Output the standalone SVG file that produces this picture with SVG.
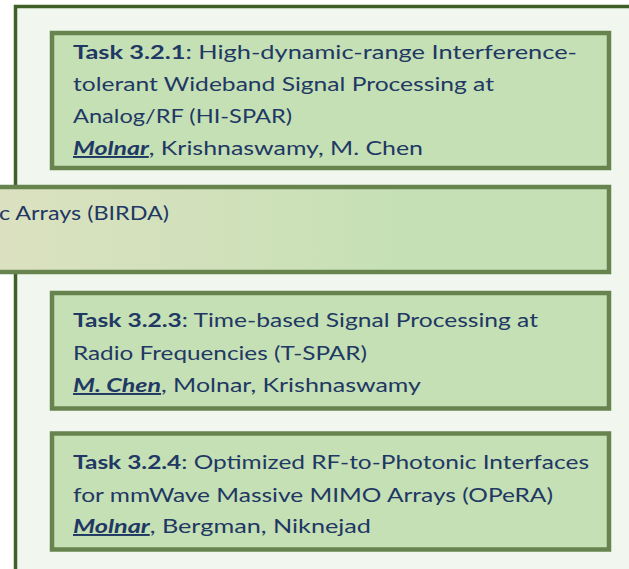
<svg xmlns="http://www.w3.org/2000/svg" width="629" height="569" viewBox="0 0 629 569">
<style>
.frame{fill:#f1f6ee;stroke:#3f6128;stroke-width:3.5}
.box{fill:#c5e0b4;stroke:#67844f;stroke-width:4.5}
.t{font-family:Lato,"Open Sans","Liberation Sans",sans-serif;font-size:19.5px;fill:#1f3864}
.b{font-weight:bold}
.lead{font-weight:bold;font-style:italic;text-decoration:underline}
</style>
<defs>
<linearGradient id="birdaGrad" gradientUnits="userSpaceOnUse" x1="-200" y1="0" x2="609" y2="0">
<stop offset="0" stop-color="#e6e2c6"/>
<stop offset="0.75" stop-color="#c6e0b5"/>
<stop offset="1" stop-color="#c5e0b4"/>
</linearGradient>
</defs>
<g id="container">
<rect class="frame" x="15.5" y="6.5" width="700" height="700"/>
</g>
<g id="connectors"/>
<g id="task321">
<rect class="box" x="52" y="33" width="557" height="135"/>
<text class="t" x="73" y="59" textLength="504" lengthAdjust="spacingAndGlyphs"><tspan class="b">Task 3.2.1</tspan>:  High-dynamic-range Interference-</text>
<text class="t" x="73" y="91" textLength="421" lengthAdjust="spacingAndGlyphs">tolerant Wideband Signal Processing at</text>
<text class="t" x="73" y="123" textLength="219" lengthAdjust="spacingAndGlyphs">Analog/RF (HI-SPAR)</text>
<text class="t" x="73" y="155" textLength="350" lengthAdjust="spacingAndGlyphs"><tspan class="lead">Molnar</tspan>, Krishnaswamy, M. Chen</text>
</g>
<g id="task322">
<rect x="-20" y="187" width="629" height="85" fill="url(#birdaGrad)" stroke="#67844f" stroke-width="4.5"/>
<text class="t" x="-1" y="220" textLength="170" lengthAdjust="spacingAndGlyphs">c Arrays (BIRDA)</text>
</g>
<g id="task323">
<rect class="box" x="52" y="293" width="557" height="115.5"/>
<text class="t" x="73" y="327" textLength="465" lengthAdjust="spacingAndGlyphs"><tspan class="b">Task 3.2.3</tspan>: Time-based Signal Processing at</text>
<text class="t" x="73" y="359.5" textLength="294" lengthAdjust="spacingAndGlyphs">Radio Frequencies (T-SPAR)</text>
<text class="t" x="73" y="392" textLength="348" lengthAdjust="spacingAndGlyphs"><tspan class="lead">M. Chen</tspan>, Molnar, Krishnaswamy</text>
</g>
<g id="task324">
<rect class="box" x="52" y="433.5" width="557" height="116"/>
<text class="t" x="73" y="469" textLength="516" lengthAdjust="spacingAndGlyphs"><tspan class="b">Task 3.2.4</tspan>: Optimized RF-to-Photonic Interfaces</text>
<text class="t" x="73" y="501.5" textLength="480" lengthAdjust="spacingAndGlyphs">for mmWave Massive MIMO Arrays (OPeRA)</text>
<text class="t" x="73" y="533" textLength="298" lengthAdjust="spacingAndGlyphs"><tspan class="lead">Molnar</tspan>, Bergman, Niknejad</text>
</g>
</svg>
